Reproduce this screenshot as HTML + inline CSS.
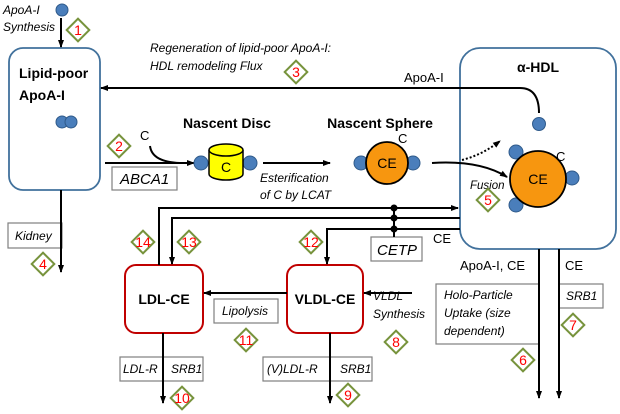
<!DOCTYPE html><html><head><style>body{margin:0;background:#fff}svg{display:block}</style></head><body>
<svg width="620" height="414" viewBox="0 0 620 414" xmlns="http://www.w3.org/2000/svg" font-family="Liberation Sans, sans-serif">
<defs>
<marker id="a" markerWidth="8" markerHeight="8" refX="7" refY="4" orient="auto" markerUnits="userSpaceOnUse"><path d="M0,1 L8,4 L0,7z" fill="#000"/></marker>
<g id="d"><rect x="-8" y="-8" width="16" height="16" transform="rotate(45)" fill="#fff" stroke="#77933c" stroke-width="2"/></g>
</defs>
<g fill="none" stroke="#000" stroke-width="2">
<!-- boxes -->
<rect x="9" y="48" width="91" height="142" rx="14" stroke="#41719c" stroke-width="1.8"/>
<rect x="460" y="48" width="156" height="201" rx="20" stroke="#41719c" stroke-width="1.8"/>
<rect x="125" y="265" width="78" height="68" rx="11" stroke="#c00000" stroke-width="2"/>
<rect x="287" y="265" width="76" height="68" rx="11" stroke="#c00000" stroke-width="2"/>
<g stroke="#7f7f7f" stroke-width="1.2">
<rect x="112" y="167" width="65" height="23"/>
<rect x="8" y="223" width="54" height="25"/>
<rect x="371" y="237" width="51" height="24"/>
<rect x="214" y="299" width="64" height="24"/>
<rect x="436" y="284" width="103" height="60"/>
<rect x="559" y="284" width="44" height="24"/>
<rect x="120" y="357" width="83" height="24"/>
<rect x="263" y="357" width="109" height="24"/>
</g>
<line x1="61" y1="18" x2="61" y2="47" marker-end="url(#a)"/>
<path d="M539,113 Q539,88 520,88 L101,88" marker-end="url(#a)"/>
<line x1="61" y1="190" x2="61" y2="272" marker-end="url(#a)"/>
<line x1="105" y1="163" x2="194" y2="163" marker-end="url(#a)"/>
<path d="M150,146 Q152,162 180,163"/>
<line x1="263" y1="163" x2="330" y2="163" marker-end="url(#a)"/>
<path d="M432,163 Q480,160 507,177" marker-end="url(#a)"/>
<path d="M462,160 Q482,155 500,141" stroke-dasharray="2,2" marker-end="url(#a)"/>
<path d="M159,265 L159,208 L458,208" marker-end="url(#a)"/>
<path d="M460,218 L172,218 L172,264" marker-end="url(#a)"/>
<path d="M460,229 L327,229 L327,264" marker-end="url(#a)"/>
<line x1="394" y1="208" x2="394" y2="237"/>
<line x1="287" y1="293" x2="204" y2="293" marker-end="url(#a)"/>
<line x1="412" y1="293" x2="364" y2="293" marker-end="url(#a)"/>
<line x1="539" y1="249" x2="539" y2="398" marker-end="url(#a)"/>
<line x1="559" y1="249" x2="559" y2="398" marker-end="url(#a)"/>
<line x1="163" y1="333" x2="163" y2="403" marker-end="url(#a)"/>
<line x1="330" y1="333" x2="330" y2="403" marker-end="url(#a)"/>
</g>
<g fill="#000"><circle cx="394" cy="208" r="3.5"/><circle cx="394" cy="218" r="3.5"/><circle cx="394" cy="229" r="3.5"/></g>
<!-- particles -->
<g fill="#4a7ebb" stroke="#2f5a8a" stroke-width="1">
<circle cx="62" cy="10" r="6"/><circle cx="62" cy="122" r="6"/><circle cx="71" cy="122" r="6"/>
<circle cx="201" cy="163" r="7"/><circle cx="250" cy="163" r="7"/>
<circle cx="361" cy="163" r="7"/><circle cx="413" cy="163" r="7"/>
<circle cx="539" cy="124" r="6.5"/>
<circle cx="516" cy="152" r="7"/><circle cx="572" cy="178" r="7"/><circle cx="516" cy="205" r="7"/>
</g>
<path d="M209,150 L209,174 A17,6 0 0 0 243,174 L243,150" fill="#ffff00" stroke="#000" stroke-width="1.5"/>
<ellipse cx="226" cy="150" rx="17" ry="6" fill="#ffff00" stroke="#000" stroke-width="1.5"/>
<circle cx="387" cy="163" r="21" fill="#f7960f" stroke="#000" stroke-width="1.8"/>
<circle cx="538" cy="179" r="28" fill="#f7960f" stroke="#000" stroke-width="1.8"/>
<g font-size="14" text-anchor="middle">
<text x="226" y="172">C</text><text x="387" y="168">CE</text><text x="538" y="184">CE</text>
</g>
<g font-size="13">
<text x="140" y="140">C</text><text x="398" y="143">C</text><text x="556" y="161">C</text>
<text x="404" y="82">ApoA-I</text><text x="433" y="243">CE</text>
<text x="460" y="270">ApoA-I, CE</text><text x="565" y="270">CE</text>
</g>
<g font-weight="bold" font-size="14">
<text x="19" y="78">Lipid-poor</text><text x="19" y="100">ApoA-I</text>
<text x="227" y="128" text-anchor="middle">Nascent Disc</text>
<text x="380" y="128" text-anchor="middle">Nascent Sphere</text>
<text x="538" y="72" text-anchor="middle">α-HDL</text>
<text x="164" y="304" text-anchor="middle">LDL-CE</text>
<text x="325" y="304" text-anchor="middle">VLDL-CE</text>
</g>
<g font-style="italic" font-size="12">
<text x="3" y="14">ApoA-I</text><text x="3" y="31">Synthesis</text>
<text x="150" y="52">Regeneration of lipid-poor ApoA-I:</text>
<text x="150" y="70">HDL remodeling Flux</text>
<text x="260" y="182">Esterification</text><text x="260" y="199">of C by LCAT</text>
<text x="470" y="189" font-size="11.5">Fusion</text>
<text x="15" y="240">Kidney</text>
<text x="222" y="315">Lipolysis</text>
<text x="373" y="300">VLDL</text><text x="373" y="318">Synthesis</text>
<text x="444" y="299">Holo-Particle</text><text x="444" y="317">Uptake (size</text><text x="444" y="335">dependent)</text>
<text x="566" y="300">SRB1</text>
<text x="123" y="373">LDL-R</text><text x="171" y="373">SRB1</text>
<text x="267" y="373">(V)LDL-R</text><text x="340" y="373">SRB1</text>
<text x="120" y="184" font-size="15">ABCA1</text>
<text x="377" y="255" font-size="15">CETP</text>
</g>
<g font-size="14" fill="#ff0000" text-anchor="middle">
<use href="#d" x="78" y="30"/><text x="78" y="35">1</text>
<use href="#d" x="119" y="146"/><text x="119" y="151">2</text>
<use href="#d" x="296" y="72"/><text x="296" y="77">3</text>
<use href="#d" x="43" y="264"/><text x="43" y="269">4</text>
<use href="#d" x="488" y="200"/><text x="488" y="205">5</text>
<use href="#d" x="523" y="360"/><text x="523" y="365">6</text>
<use href="#d" x="573" y="325"/><text x="573" y="330">7</text>
<use href="#d" x="396" y="342"/><text x="396" y="347">8</text>
<use href="#d" x="348" y="395"/><text x="348" y="400">9</text>
<use href="#d" x="182" y="398"/><text x="182" y="403">10</text>
<use href="#d" x="246" y="340"/><text x="246" y="345">11</text>
<use href="#d" x="311" y="242"/><text x="311" y="247">12</text>
<use href="#d" x="189" y="242"/><text x="189" y="247">13</text>
<use href="#d" x="143" y="242"/><text x="143" y="247">14</text>
</g>
</svg>
</body></html>
